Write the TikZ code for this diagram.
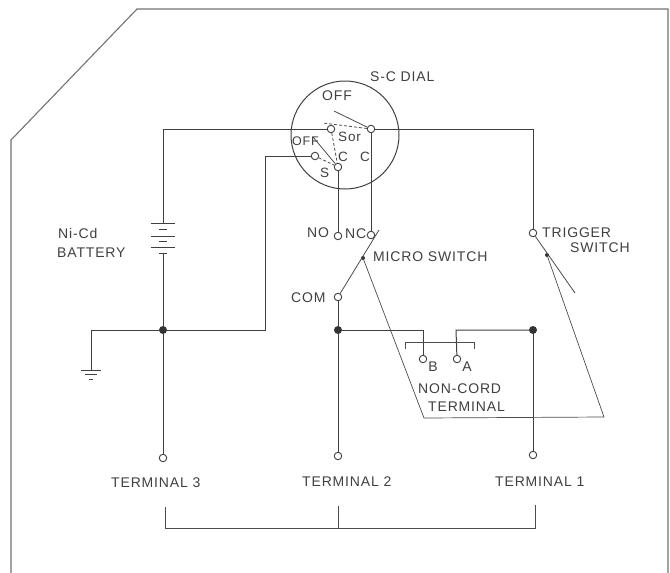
\documentclass[tikz,border=0pt]{standalone}
\usetikzlibrary{calc}
\usepackage{fontspec}
\setmainfont[LetterSpace=6]{Liberation Sans}
\tikzset{
  x=1pt,y=-1pt,
  wire/.style={draw=black!75,line width=1pt},
  frameline/.style={draw=black!55,line width=1.1pt},
  thin wire/.style={draw=black!70,line width=0.8pt},
  contact/.style={circle,draw=black!75,fill=white,line width=0.9pt,inner sep=0pt,minimum size=7.5pt},
  junction/.style={circle,fill=black!80,inner sep=0pt,minimum size=8pt},
  pivot/.style={circle,fill=black!80,inner sep=0pt,minimum size=4pt},
  lab/.style={inner sep=0pt,font=\fontsize{14}{16}\selectfont,text=black!75,align=center},
  smalllab/.style={lab,font=\fontsize{13.5}{15}\selectfont},
  tinylab/.style={lab,font=\fontsize{12.5}{14}\selectfont},
}
\begin{document}
\begin{tikzpicture}
\useasboundingbox (0,0) rectangle (670,573);
\fill[white] (0,0) rectangle (670,573);
% frame
\draw[frameline] (11,573) -- (11,140) -- (137,9) -- (668,9) -- (668,573);
% dial
\node[circle,draw=black!75,line width=1pt,minimum size=108pt,inner sep=0pt] (dial) at (345,135) {};
% coordinates
\coordinate (a) at (163,129);
\coordinate (b) at (533,129);
\coordinate (c) at (265,156);
\coordinate (d) at (265,330);
\coordinate (g) at (91,330);
\coordinate (g1) at (91,370);
\coordinate (b1) at (163,223);
\coordinate (b2) at (163,253);
\coordinate (m1) at (379,230);
\coordinate (t0) at (575,293);
\coordinate (l1) at (424,418);
\coordinate (l2) at (604,417);
\coordinate (bb) at (423,330);
\coordinate (ba) at (456,330);
\coordinate (bl) at (405,342);
\coordinate (br) at (474,342);
\coordinate (o1) at (334,111);
\coordinate (o2) at (313,137);
\coordinate (o3) at (323,123);
\coordinate (f3) at (165,507);
\coordinate (f2) at (338,506);
\coordinate (f1) at (535,505);
\coordinate (fl) at (165,528);
\coordinate (fm) at (338,528);
\coordinate (fr) at (535,528);
% contacts
\node[contact] (d1) at (331,129) {};
\node[contact] (d2) at (371,129) {};
\node[contact] (d3) at (315,156) {};
\node[contact] (d4) at (338,167) {};
\node[contact] (no) at (338,236) {};
\node[contact] (nc) at (371,235) {};
\node[contact] (com) at (338,297) {};
\node[contact] (trig) at (533,233) {};
\node[contact] (cb) at (423,359) {};
\node[contact] (ca) at (457,359) {};
\node[contact] (t3) at (163,458) {};
\node[contact] (t2) at (338,456) {};
\node[contact] (t1) at (533,455) {};
\node[junction] (j3) at (163,330) {};
\node[junction] (j2) at (338,330) {};
\node[junction] (j1) at (533,330) {};
\node[pivot] (pm) at (363,258) {};
\node[pivot] (pt) at (547,255) {};
% wires
\draw[wire] (d1) -- (a) -- (b1);
\draw[wire] (d2) -- (b) -- (trig);
\draw[wire] (d2) -- (nc);
\draw[wire] (d4) -- (no);
\draw[wire] (d3) -- (c) -- (d) -- (j3);
\draw[wire] (b2) -- (j3) -- (t3);
\draw[wire] (j3) -- (g) -- (g1);
\draw[wire] (com) -- (j2) -- (t2);
\draw[wire] (j2) -- (bb) -- (cb);
\draw[wire] (j1) -- (ba) -- (ca);
\draw[wire] (j1) -- (t1);
\draw[thin wire] (com) -- (m1);
\draw[thin wire] (trig) -- (t0);
\draw[thin wire] (d2) -- (o1);
\draw[thin wire] (d4) -- (o2);
\draw[thin wire,dash pattern=on 3pt off 2pt] (d2) -- (o3);
\draw[thin wire,dash pattern=on 3pt off 2pt] (d1) -- (d4);
\draw[thin wire,dash pattern=on 3pt off 2pt] (d3) -- (d4);
% mechanical link
\draw[draw=black!70,line width=0.7pt] (pm) -- (l1) -- (l2) -- (pt);
% bracket
\draw[thin wire] ($(bl)+(0,7)$) -- (bl) -- (br) -- ($(br)+(0,7)$);
% battery
\draw[wire] (151,223) -- (175,223) (151,236) -- (175,236) (151,247) -- (175,247);
\draw[wire] (159,229) -- (167,229) (159,241) -- (167,241) (159,253) -- (167,253);
% ground
\draw[wire] (81,370) -- (101,370) (85,374.5) -- (97,374.5) (89,379) -- (93,379);
% bottom bracket
\draw[thin wire] (f3) -- (fl) -- (fr) -- (f1);
\draw[thin wire] (f2) -- (fm);
% labels
\node[lab,anchor=west] (n1) at (370,77) {S-C DIAL};
\node[lab,anchor=west] (n2) at (322,96) {OFF};
\node[smalllab,anchor=west] (n3) at (338,137) {Sor};
\node[tinylab,anchor=west] (n4) at (292,141) {OFF};
\node[smalllab,anchor=west] (n5) at (338,157) {C};
\node[smalllab,anchor=west] (n6) at (360,157) {C};
\node[smalllab,anchor=west] (n7) at (320,173) {S};
\node[lab,anchor=west] (n8) at (58,233) {Ni-Cd};
\node[lab,anchor=west] (n9) at (57,253) {BATTERY};
\node[lab,anchor=west] (n10) at (307,233) {NO};
\node[lab,anchor=west] (n11) at (345,234) {NC};
\node[lab,anchor=west] (n12) at (373,257) {MICRO SWITCH};
\node[lab,anchor=west] (n13) at (291,298) {COM};
\node[lab,anchor=west] (n14) at (542,233) {TRIGGER};
\node[lab,anchor=west] (n15) at (570,248) {SWITCH};
\node[lab] (n16) at (433,367) {B};
\node[lab] (n17) at (467,367) {A};
\node[lab,anchor=west] (n18) at (418,389) {NON-CORD};
\node[lab,anchor=west] (n19) at (428,407) {TERMINAL};
\node[lab,anchor=west] (n20) at (111,483) {TERMINAL 3};
\node[lab,anchor=west] (n21) at (302,482) {TERMINAL 2};
\node[lab,anchor=west] (n22) at (495,482) {TERMINAL 1};
\end{tikzpicture}
\end{document}
